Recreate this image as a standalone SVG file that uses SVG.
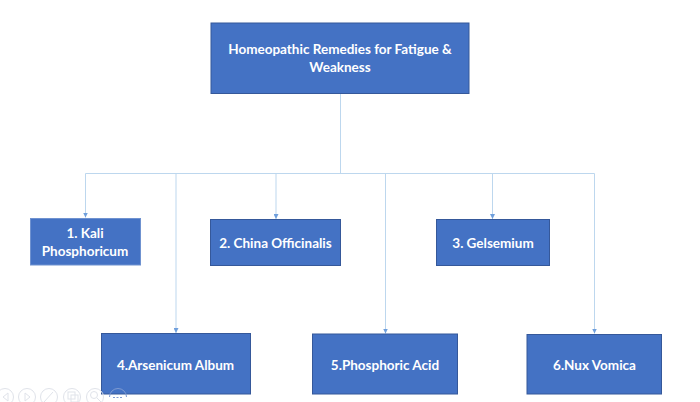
<svg xmlns="http://www.w3.org/2000/svg" width="700" height="402" viewBox="0 0 700 402">
<defs>
<marker id="arr" markerUnits="userSpaceOnUse" markerWidth="6" markerHeight="5" refX="5" refY="2.5" orient="auto"><path d="M0 0L5 2.500L0 5Z" fill="#6f9fdc"/></marker>
<style>
.box{fill:#4472c4;stroke:#35589a;stroke-width:1}
.lbl{font-family:"Lato","Liberation Sans",sans-serif;font-weight:700;font-size:13.500px;fill:#fff;text-anchor:middle}
.c{fill:none;stroke:#bdd7ee;stroke-width:1}
.a{marker-end:url(#arr)}
.ui{fill:none;stroke:#e0e3ea;stroke-width:1}
.uid{fill:none;stroke:#7f9bd2;stroke-width:1}
</style>
</defs>
<rect width="700" height="402" fill="#fff"/>
<g id="connectors">
<path class="c" d="M340.500 94V173.500"/>
<path class="c" d="M85.500 173.500H594.500"/>
<path class="c a" d="M85.500 173.500V217.500"/>
<path class="c a" d="M176 173.500V333"/>
<path class="c a" d="M276 173.500V219"/>
<path class="c a" d="M385.500 173.500V333.500"/>
<path class="c a" d="M492.500 173.500V219"/>
<path class="c a" d="M594.500 173.500V333.500"/>
</g>
<g id="root"><rect class="box" x="211" y="23" width="258" height="70.500"/><text class="lbl" x="340" y="54">Homeopathic Remedies for Fatigue &amp;</text><text class="lbl" x="340" y="71.500">Weakness</text></g>
<g id="n1"><rect x="30.500" y="218.500" width="110" height="46.500" fill="#4472c4" stroke="#6f92d0"/><text class="lbl" x="85" y="238">1. Kali</text><text class="lbl" x="85" y="255.500">Phosphoricum</text></g>
<g id="n2"><rect class="box" x="210.500" y="219.500" width="130" height="46"/><text class="lbl" x="275.500" y="247.500">2. China Officinalis</text></g>
<g id="n3"><rect class="box" x="436.500" y="219.500" width="113" height="46"/><text class="lbl" x="493" y="247.500">3. Gelsemium</text></g>
<g id="n4"><rect class="box" x="101.500" y="333.500" width="149" height="60.500"/><text class="lbl" x="175.500" y="369.500">4.Arsenicum Album</text></g>
<g id="n5"><rect class="box" x="312.500" y="334" width="145" height="60"/><text class="lbl" x="385" y="369.500">5.Phosphoric Acid</text></g>
<g id="n6"><rect class="box" x="527" y="334.500" width="134.500" height="59.500"/><text class="lbl" x="594.500" y="369.500">6.Nux Vomica</text></g>
<g id="toolbar">
<circle class="ui" cx="5" cy="397" r="8.500"/><path class="ui" d="M8 393L3 397L8 401Z"/>
<circle class="ui" cx="27" cy="397" r="8.500"/><path class="ui" d="M25 393L30 397L25 401Z"/>
<circle class="ui" cx="49" cy="397" r="8.500"/><path class="ui" d="M44 402L53 392"/>
<circle class="ui" cx="72" cy="397" r="8.500"/><rect class="ui" x="68" y="392" width="7" height="7"/><rect class="ui" x="71" y="395" width="7" height="7"/>
<circle class="ui" cx="95" cy="397" r="8.500"/><circle class="ui" cx="94" cy="395" r="3.500"/><path class="ui" d="M97 398L101 402"/>
<path class="uid" d="M109.500 397A8.500 8.500 0 0 1 126.500 397"/><path class="uid" d="M113 397.500H123" stroke-dasharray="2 1.500"/>
</g>
</svg>
